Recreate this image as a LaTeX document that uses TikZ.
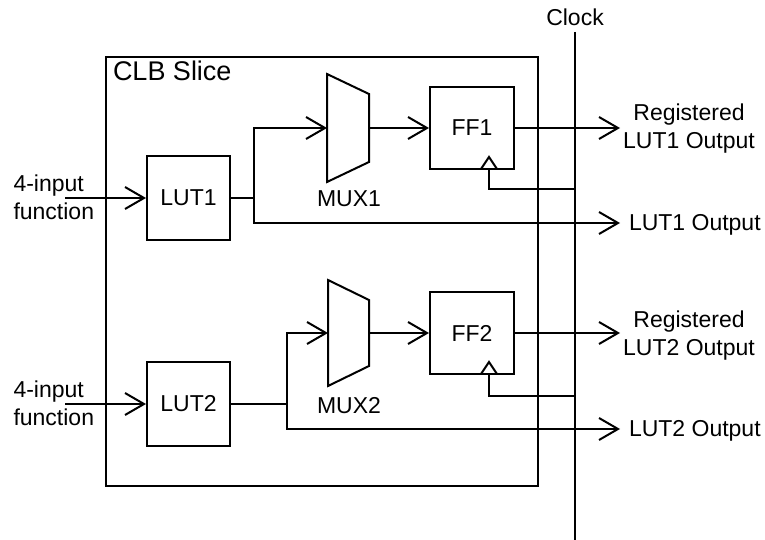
\documentclass[tikz,border=0pt]{standalone}
\usepackage{fontspec}
\setmainfont{Liberation Sans}
\usetikzlibrary{arrows.meta}
\begin{document}
\begin{tikzpicture}[x=1pt,y=-1pt,line width=2pt,
  every node/.style={font=\fontsize{23}{28}\selectfont,inner sep=0pt},
  blk/.style={draw,minimum width=83pt,minimum height=84pt},
  ffbox/.style={draw,minimum width=84pt,minimum height=82pt},
  arr/.style={-{Straight Barb[length=19pt,width=22pt]}}]
\useasboundingbox (0,0) rectangle (765,540);
% CLB slice box
\node[draw,minimum width=432pt,minimum height=429pt] (clb) at (322,271.5) {};
\node[anchor=base west,font=\fontsize{27}{32}\selectfont] (clbl) at (112,81) {CLB Slice};
% clock
\node (clk) at (575,17) {Clock};
\coordinate (clktop) at (575,32);
\coordinate (clkbot) at (575,540);
\draw (clktop) -- (clkbot);
% blocks
\node[blk] (lut1) at (188.5,198) {LUT1};
\node[blk] (lut2) at (188.5,404) {LUT2};
\node[ffbox] (ff1) at (472,128) {FF1};
\node[ffbox] (ff2) at (472,333) {FF2};
% MUX shapes
\draw (327,74) -- (369,94) -- (369,162) -- (327,182) -- cycle;
\draw (328,280) -- (369,300) -- (369,366) -- (328,386) -- cycle;
\coordinate (mux1in) at (327,128);
\coordinate (mux1out) at (369,128);
\coordinate (mux2in) at (328,333);
\coordinate (mux2out) at (369,333);
\node[anchor=base] (mux1l) at (349,207) {MUX1};
\node[anchor=base] (mux2l) at (349,413) {MUX2};
% inputs
\node[anchor=west,align=left] (in1) at (12.5,197.5) {4-input\\function};
\node[anchor=west,align=left] (in2) at (12.5,403) {4-input\\function};
\coordinate (in1s) at (65,198);
\coordinate (in2s) at (65,404);
\draw[arr] (in1s) -- (lut1.west);
\draw[arr] (in2s) -- (lut2.west);
% LUT1 paths
\coordinate (j1) at (254,198);
\coordinate (o1) at (620,223);
\draw (lut1.east) -- (j1);
\draw[arr] (j1) |- (mux1in);
\draw[arr] (j1) |- (o1);
\draw[arr] (mux1out) -- (ff1.west);
\coordinate (r1) at (620,128);
\draw[arr] (ff1.east) -- (r1);
% LUT2 paths
\coordinate (j2) at (287,404);
\coordinate (o2) at (620,429);
\draw (lut2.east) -- (j2);
\draw[arr] (j2) |- (mux2in);
\draw[arr] (j2) |- (o2);
\draw[arr] (mux2out) -- (ff2.west);
\coordinate (r2) at (620,333);
\draw[arr] (ff2.east) -- (r2);
% clock triangles and branches
\draw (481,169) -- (489,157) -- (497,169);
\draw (481,374) -- (489,362) -- (497,374);
\coordinate (c1) at (575,189);
\coordinate (c2) at (575,396);
\draw (c1) -| (489,169);
\draw (c2) -| (489,374);
% output labels
\node[align=center] (rl1) at (689,129) {Registered\\LUT1 Output};
\node[align=center] (rl2) at (689,336) {Registered\\LUT2 Output};
\node[anchor=west] (ol1) at (628,225) {LUT1 Output};
\node[anchor=west] (ol2) at (628,431) {LUT2 Output};
\end{tikzpicture}
\end{document}
